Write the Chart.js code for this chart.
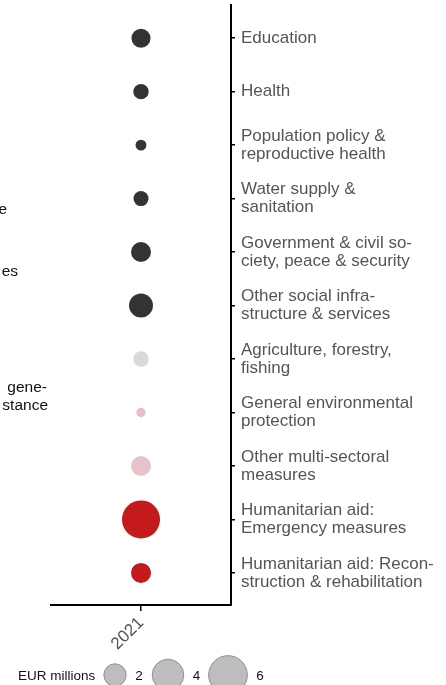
<!DOCTYPE html>
<html>
<head>
<meta charset="utf-8">
<script src="https://cdn.jsdelivr.net/npm/chart.js@4"></script>
<style>
  html, body { margin: 0; padding: 0; background: #fff; }
  #wrap { width: 446px; height: 685px; position: relative; }
</style>
</head>
<body>
<div id="wrap"><canvas id="myChart"></canvas></div>
<script>
// data
const year = '2021';
const sectors = [
  'Education',
  'Health',
  'Population policy &\nreproductive health',
  'Water supply &\nsanitation',
  'Government & civil so-\nciety, peace & security',
  'Other social infra-\nstructure & services',
  'Agriculture, forestry,\nfishing',
  'General environmental\nprotection',
  'Other multi-sectoral\nmeasures',
  'Humanitarian aid:\nEmergency measures',
  'Humanitarian aid: Recon-\nstruction & rehabilitation'
];
const amounts = [1.45, 0.95, 0.48, 0.9, 1.6, 2.3, 0.97, 0.35, 1.6, 5.8, 1.6]; // EUR millions
const sectorColors = ['#333333', '#333333', '#333333', '#333333', '#333333', '#333333',
  '#d9d9d9', '#e8bfc8', '#e9c1c8', '#c41a1b', '#c41a1b'];
const legendSizes = [2, 4, 6];
const cutLabels = ['e', 'es', 'gene-', 'stance']; // text cut off at the left edge

const ctx = document.getElementById('myChart');
const radius = v => 7.9 * Math.sqrt(v);
const font = 'Liberation Sans, Arial, sans-serif';

const extras = {
  id: 'extras',
  afterDraw(chart) {
    const c = chart.ctx;
    c.save();
    // cut-off text on the left
    c.fillStyle = '#111';
    c.font = '15.5px ' + font;
    c.textAlign = 'right';
    c.textBaseline = 'middle';
    c.fillText(cutLabels[0], 7, 210);
    c.fillText(cutLabels[1], 18, 272);
    c.fillText(cutLabels[2], 47, 388);
    c.fillText(cutLabels[3], 48, 406);

    // size legend
    c.font = '13.5px ' + font;
    c.textAlign = 'left';
    c.fillStyle = '#111';
    c.fillText('EUR millions', 18, 676);
    const xs = [115, 168, 228];
    legendSizes.forEach((v, i) => {
      const r = radius(v);
      c.beginPath();
      c.arc(xs[i], 675, r, 0, Math.PI * 2);
      c.fillStyle = '#bdbdbd';
      c.fill();
      c.strokeStyle = '#8f8f8f';
      c.lineWidth = 1;
      c.stroke();
      c.fillStyle = '#111';
      c.fillText(String(v), xs[i] + r + 9, 676);
    });
    c.restore();
  }
};

new Chart(ctx, {
  type: 'bubble',
  data: {
    datasets: [{
      data: amounts.map((v, i) => ({ x: year, y: i, r: radius(v) })),
      backgroundColor: sectorColors,
      borderWidth: 0,
      hoverRadius: 0
    }]
  },
  options: {
    responsive: true,
    maintainAspectRatio: false,
    animation: false,
    events: [],
    layout: { autoPadding: false, padding: { left: 51, top: 5, right: 0, bottom: 0 } },
    plugins: { legend: { display: false }, tooltip: { enabled: false } },
    scales: {
      x: {
        type: 'category',
        labels: [year],
        offset: true,
        position: 'bottom',
        border: { display: true, color: '#000', width: 2 },
        grid: { display: true, drawOnChartArea: false, drawTicks: true, tickLength: 6, color: '#000', tickColor: '#000', lineWidth: 1.5 },
        ticks: { color: '#555', font: { family: font, size: 17 }, minRotation: 45, maxRotation: 45, padding: 2 },
        afterFit: s => { s.height = 80; s.paddingLeft = 0; s.paddingRight = 0; }
      },
      y: {
        type: 'linear',
        position: 'right',
        reverse: true,
        min: -0.62,
        max: 10.6,
        afterBuildTicks: s => { s.ticks = sectors.map((_, i) => ({ value: i })); },
        border: { display: true, color: '#000', width: 2 },
        grid: { display: true, drawOnChartArea: false, drawTicks: true, tickLength: 4, color: '#000', tickColor: '#000', lineWidth: 1.5 },
        ticks: {
          color: '#555',
          font: { family: font, size: 17, lineHeight: '18px' },
          padding: 6,
          callback: v => sectors[v] ? sectors[v].split('\n') : ''
        },
        afterFit: s => { s.width = 215; s.paddingTop = 0; s.paddingBottom = 0; }
      }
    }
  },
  plugins: [extras]
});
</script>
</body>
</html>
